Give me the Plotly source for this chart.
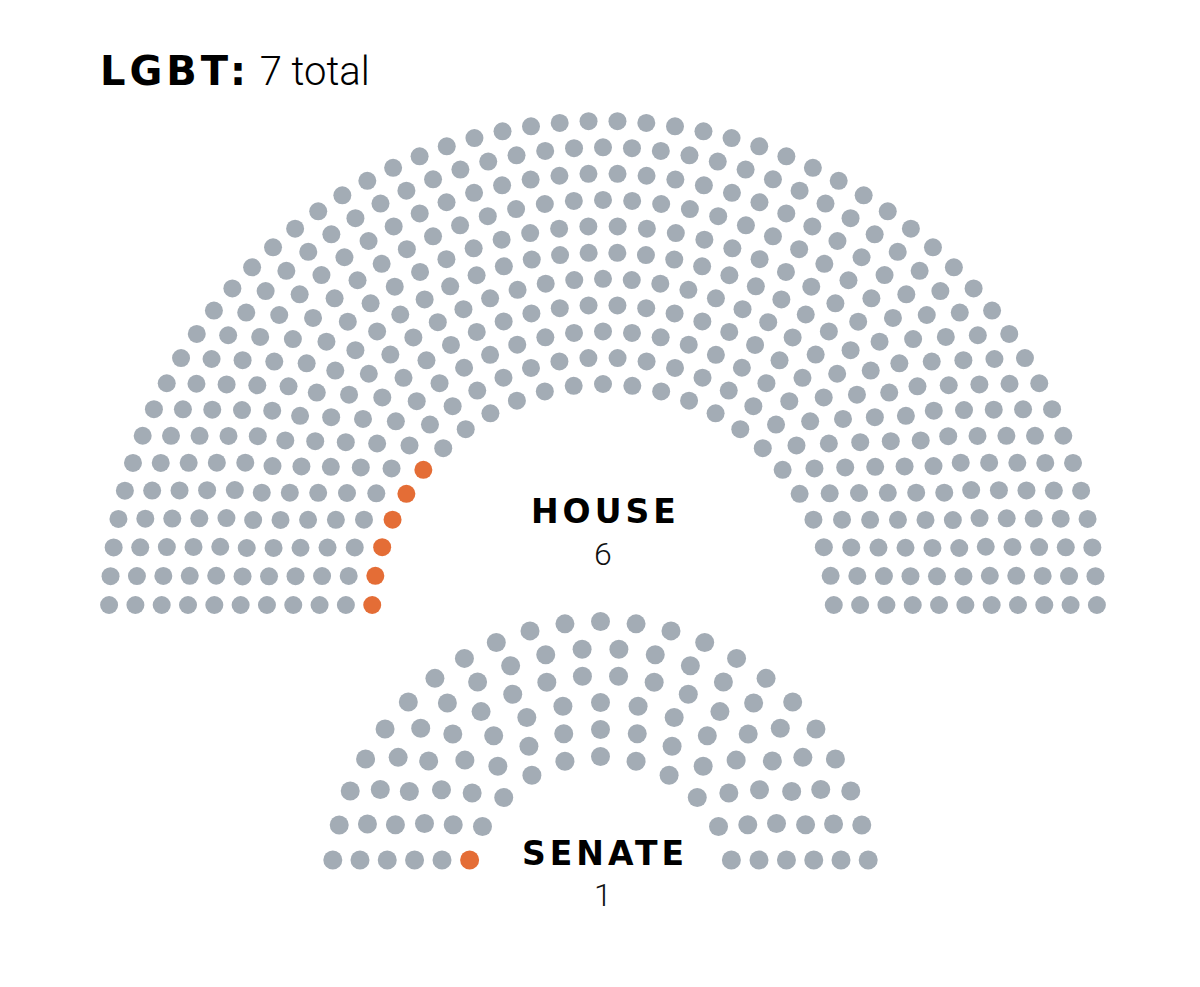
import numpy as np
import plotly.graph_objects as go

# ---- data ----
house_row_seats = [25, 28, 31, 34, 37, 40, 42, 45, 48, 51, 54]   # inner -> outer (435)
senate_row_seats = [11, 13, 15, 18, 20, 23]                       # inner -> outer (100)
house_lgbt = 6
senate_lgbt = 1
chamber_labels = ["HOUSE", "SENATE"]
group_label = "LGBT:"
total_label = "7 total"

GRAY = "#a3acb5"
ORANGE = "#e46d36"


def hemicycle(rows, r0, dr, base, cx, cy):
    xs, ys = [], []
    for i, n in enumerate(rows):
        r = r0 + dr * i
        t0 = np.arcsin(base / r)
        th = np.linspace(np.pi - t0, t0, n)
        xs.extend(cx + r * np.cos(th))
        ys.extend(cy + r * np.sin(th))
    return np.array(xs), np.array(ys)


hx, hy = hemicycle(house_row_seats, 231, 26.3, 10, 0, 0)
sx, sy = hemicycle(senate_row_seats, 134.5, 27, 31, -2.5, -276)

hcol = [ORANGE if i < house_lgbt else GRAY for i in range(len(hx))]
scol = [ORANGE if i < senate_lgbt else GRAY for i in range(len(sx))]

fig = go.Figure()
fig.add_trace(go.Scatter(x=hx, y=hy, mode="markers", hoverinfo="skip",
                         marker=dict(size=18, color=hcol, line=dict(width=0))))
fig.add_trace(go.Scatter(x=sx, y=sy, mode="markers", hoverinfo="skip",
                         marker=dict(size=19, color=scol, line=dict(width=0))))


def px(x, y):
    return x - 603, 615 - y


HEAVY_FAM = "DejaVu Sans, Arial Black, sans-serif"
LIGHT = dict(family="Roboto, Liberation Sans, sans-serif", color="#111111", weight=300)

ann = []
tx, ty = px(98, 71)
ann.append(dict(x=tx, y=ty, xanchor="left", yanchor="middle", showarrow=False,
                text=f"<span style='font-family:DejaVu Sans;font-weight:bold;letter-spacing:4px'>{group_label}</span>"
                     f"<span style='font-weight:300'> {total_label}</span>",
                font=dict(size=40, family="Roboto, sans-serif", color="#000")))
for (lab, num, cxp, ly, ny) in [(chamber_labels[0], house_lgbt, 605, 511, 554),
                                (chamber_labels[1], senate_lgbt, 605, 853, 895)]:
    x1, y1 = px(cxp, ly)
    ann.append(dict(x=x1, y=y1, xanchor="center", yanchor="middle", showarrow=False,
                    text=f"<span style='letter-spacing:4px'>{lab}</span>",
                    font=dict(size=33, family=HEAVY_FAM, color="#000", weight="bold")))
    x2, y2 = px(603, ny)
    ann.append(dict(x=x2, y=y2, xanchor="center", yanchor="middle", showarrow=False,
                    text=str(num), font=dict(size=32, **LIGHT)))

fig.update_layout(
    width=1200, height=987,
    margin=dict(l=0, r=0, t=0, b=0),
    paper_bgcolor="white", plot_bgcolor="white",
    showlegend=False,
    xaxis=dict(range=[-603, 597], visible=False, fixedrange=True),
    yaxis=dict(range=[-372, 615], visible=False, fixedrange=True),
    annotations=ann,
)

fig.write_html("out.html", post_script="document.body.style.margin='0';",
               config={"displayModeBar": False})
